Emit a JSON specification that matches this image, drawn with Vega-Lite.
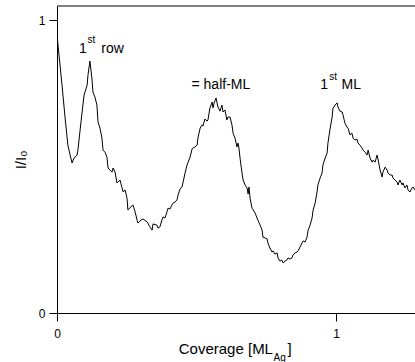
{
  "$schema": "https://vega.github.io/schema/vega-lite/v6.json",
  "width": 358,
  "height": 307,
  "autosize": {"type": "none"},
  "padding": {"left": 57, "top": 6, "right": 0, "bottom": 49},
  "background": "white",
  "config": {
    "view": {"stroke": null},
    "font": "Liberation Sans",
    "text": {"font": "Liberation Sans", "color": "black"}
  },
  "datasets": {
    "curve": [
      {"x":0,"y":0.949},{"x":0.018,"y":0.778},{"x":0.029,"y":0.666},{"x":0.039,"y":0.573},{"x":0.047,"y":0.539},
      {"x":0.054,"y":0.512},{"x":0.061,"y":0.529},{"x":0.072,"y":0.539},{"x":0.075,"y":0.556},{"x":0.082,"y":0.618},
      {"x":0.090,"y":0.686},{"x":0.097,"y":0.744},{"x":0.108,"y":0.778},{"x":0.111,"y":0.812},{"x":0.118,"y":0.860},
      {"x":0.125,"y":0.802},{"x":0.129,"y":0.754},{"x":0.136,"y":0.737},{"x":0.143,"y":0.710},{"x":0.147,"y":0.652},
      {"x":0.154,"y":0.631},{"x":0.161,"y":0.597},{"x":0.165,"y":0.556},{"x":0.172,"y":0.549},{"x":0.179,"y":0.532},
      {"x":0.183,"y":0.495},{"x":0.197,"y":0.481},{"x":0.201,"y":0.495},{"x":0.208,"y":0.481},{"x":0.215,"y":0.444},
      {"x":0.219,"y":0.447},{"x":0.226,"y":0.454},{"x":0.233,"y":0.427},{"x":0.237,"y":0.413},{"x":0.244,"y":0.420},
      {"x":0.251,"y":0.392},{"x":0.254,"y":0.352},{"x":0.265,"y":0.362},{"x":0.272,"y":0.369},{"x":0.280,"y":0.345},
      {"x":0.287,"y":0.317},{"x":0.290,"y":0.307},{"x":0.301,"y":0.317},{"x":0.308,"y":0.321},{"x":0.323,"y":0.311},
      {"x":0.333,"y":0.294},{"x":0.341,"y":0.283},{"x":0.344,"y":0.304},{"x":0.358,"y":0.300},{"x":0.362,"y":0.290},
      {"x":0.369,"y":0.294},{"x":0.376,"y":0.317},{"x":0.380,"y":0.328},{"x":0.387,"y":0.324},{"x":0.394,"y":0.345},
      {"x":0.398,"y":0.358},{"x":0.405,"y":0.355},{"x":0.412,"y":0.369},{"x":0.416,"y":0.375},{"x":0.423,"y":0.379},
      {"x":0.430,"y":0.386},{"x":0.434,"y":0.403},{"x":0.441,"y":0.423},{"x":0.448,"y":0.430},{"x":0.452,"y":0.447},
      {"x":0.459,"y":0.478},{"x":0.466,"y":0.505},{"x":0.470,"y":0.515},{"x":0.477,"y":0.532},{"x":0.484,"y":0.560},
      {"x":0.487,"y":0.563},{"x":0.495,"y":0.567},{"x":0.502,"y":0.573},{"x":0.505,"y":0.597},{"x":0.513,"y":0.631},
      {"x":0.520,"y":0.642},{"x":0.523,"y":0.638},{"x":0.530,"y":0.662},{"x":0.538,"y":0.655},{"x":0.541,"y":0.659},
      {"x":0.548,"y":0.700},{"x":0.556,"y":0.720},{"x":0.559,"y":0.700},{"x":0.563,"y":0.717},{"x":0.570,"y":0.734},
      {"x":0.573,"y":0.720},{"x":0.577,"y":0.703},{"x":0.584,"y":0.689},{"x":0.591,"y":0.710},{"x":0.595,"y":0.686},
      {"x":0.602,"y":0.693},{"x":0.609,"y":0.659},{"x":0.613,"y":0.669},{"x":0.620,"y":0.669},{"x":0.627,"y":0.642},
      {"x":0.631,"y":0.614},{"x":0.638,"y":0.597},{"x":0.645,"y":0.567},{"x":0.649,"y":0.580},{"x":0.652,"y":0.563},
      {"x":0.656,"y":0.529},{"x":0.663,"y":0.478},{"x":0.667,"y":0.454},{"x":0.674,"y":0.437},{"x":0.681,"y":0.427},
      {"x":0.685,"y":0.406},{"x":0.688,"y":0.430},{"x":0.692,"y":0.392},{"x":0.699,"y":0.358},{"x":0.703,"y":0.352},
      {"x":0.710,"y":0.341},{"x":0.717,"y":0.324},{"x":0.720,"y":0.317},{"x":0.728,"y":0.300},{"x":0.735,"y":0.283},
      {"x":0.738,"y":0.259},{"x":0.746,"y":0.256},{"x":0.753,"y":0.253},{"x":0.756,"y":0.239},{"x":0.763,"y":0.222},
      {"x":0.771,"y":0.208},{"x":0.774,"y":0.212},{"x":0.781,"y":0.201},{"x":0.789,"y":0.205},{"x":0.792,"y":0.188},
      {"x":0.799,"y":0.177},{"x":0.806,"y":0.181},{"x":0.810,"y":0.171},{"x":0.817,"y":0.177},{"x":0.824,"y":0.181},
      {"x":0.828,"y":0.188},{"x":0.835,"y":0.184},{"x":0.842,"y":0.188},{"x":0.846,"y":0.198},{"x":0.853,"y":0.205},
      {"x":0.860,"y":0.208},{"x":0.864,"y":0.212},{"x":0.871,"y":0.225},{"x":0.878,"y":0.239},{"x":0.882,"y":0.246},
      {"x":0.889,"y":0.242},{"x":0.896,"y":0.259},{"x":0.900,"y":0.283},{"x":0.907,"y":0.300},{"x":0.914,"y":0.324},
      {"x":0.918,"y":0.352},{"x":0.925,"y":0.375},{"x":0.932,"y":0.413},{"x":0.935,"y":0.437},{"x":0.943,"y":0.461},
      {"x":0.950,"y":0.478},{"x":0.953,"y":0.505},{"x":0.961,"y":0.529},{"x":0.968,"y":0.546},{"x":0.971,"y":0.580},
      {"x":0.978,"y":0.625},{"x":0.986,"y":0.669},{"x":0.989,"y":0.700},{"x":0.993,"y":0.703},{"x":0.996,"y":0.710},
      {"x":1.004,"y":0.717},{"x":1.007,"y":0.703},{"x":1.014,"y":0.689},{"x":1.022,"y":0.686},{"x":1.025,"y":0.676},
      {"x":1.032,"y":0.648},{"x":1.039,"y":0.635},{"x":1.043,"y":0.631},{"x":1.050,"y":0.608},{"x":1.057,"y":0.614},
      {"x":1.061,"y":0.597},{"x":1.068,"y":0.590},{"x":1.075,"y":0.594},{"x":1.079,"y":0.580},{"x":1.086,"y":0.573},
      {"x":1.093,"y":0.563},{"x":1.097,"y":0.556},{"x":1.104,"y":0.549},{"x":1.111,"y":0.539},{"x":1.115,"y":0.556},
      {"x":1.122,"y":0.529},{"x":1.129,"y":0.515},{"x":1.133,"y":0.522},{"x":1.140,"y":0.515},{"x":1.147,"y":0.539},
      {"x":1.151,"y":0.522},{"x":1.158,"y":0.488},{"x":1.165,"y":0.464},{"x":1.168,"y":0.481},{"x":1.176,"y":0.498},
      {"x":1.183,"y":0.488},{"x":1.186,"y":0.478},{"x":1.194,"y":0.471},{"x":1.201,"y":0.471},{"x":1.204,"y":0.461},
      {"x":1.211,"y":0.454},{"x":1.219,"y":0.447},{"x":1.222,"y":0.437},{"x":1.229,"y":0.454},{"x":1.237,"y":0.437},
      {"x":1.240,"y":0.444},{"x":1.247,"y":0.427},{"x":1.254,"y":0.437},{"x":1.258,"y":0.420},{"x":1.265,"y":0.413},
      {"x":1.272,"y":0.427},{"x":1.276,"y":0.430},{"x":1.283,"y":0.420}
    ],
    "labels": [
      {"x":0.079,"y":0.887,"text":"1"},
      {"x":0.159,"y":0.887,"text":"row"},
      {"x":0.482,"y":0.765,"text":"= half-ML"},
      {"x":0.943,"y":0.765,"text":"1"},
      {"x":1.020,"y":0.765,"text":"ML"}
    ],
    "sups": [
      {"x":0.109,"y":0.922,"text":"st"},
      {"x":0.976,"y":0.795,"text":"st"}
    ],
    "xtitle": [{"x":0.774,"y":-0.140,"text":"Coverage [ML"}],
    "xsub": [{"x":0.776,"y":-0.164,"text":"Ag"}],
    "xclose": [{"x":0.826,"y":-0.140,"text":"]"}]
  },
  "layer": [
    {
      "data": {"name": "curve"},
      "mark": {"type": "line", "color": "black", "strokeWidth": 1, "clip": true},
      "encoding": {
        "x": {
          "field": "x", "type": "quantitative",
          "scale": {"domain": [0, 1.283], "nice": false, "zero": false},
          "axis": {
            "values": [0, 0.5, 1], "format": "d",
            "labelExpr": "datum.value == 0.5 ? '' : datum.label",
            "title": null, "grid": false,
            "tickSize": {"condition": {"test": "datum.value == 0.5", "value": 4}, "value": 8},
            "labelPadding": 7, "labelFontSize": 12, "labelFont": "Liberation Sans",
            "labelColor": "black", "domainColor": "black", "tickColor": "black", "labelFlush": false
          }
        },
        "y": {
          "field": "y", "type": "quantitative",
          "scale": {"domain": [0, 1.048], "nice": false, "zero": false},
          "axis": {
            "values": [0, 0.5, 1], "format": "d",
            "labelExpr": "datum.value == 0.5 ? '' : datum.label",
            "title": "I/I₀", "titleFontSize": 15, "titleFontWeight": "normal",
            "titleFont": "Liberation Sans", "titleColor": "black", "titlePadding": 10,
            "grid": false,
            "tickSize": {"condition": {"test": "datum.value == 0.5", "value": 4}, "value": 8},
            "labelPadding": 4, "labelFontSize": 12, "labelFont": "Liberation Sans",
            "labelColor": "black", "domainColor": "black", "tickColor": "black", "labelFlush": false
          }
        }
      }
    },
    {
      "data": {"values": [{}]},
      "mark": {"type": "rule", "color": "black", "strokeWidth": 1},
      "encoding": {
        "y": {"datum": 1.048, "type": "quantitative", "scale": {"domain": [0, 1.048], "nice": false, "zero": false}}
      }
    },
    {
      "data": {"name": "labels"},
      "mark": {"type": "text", "align": "left", "baseline": "alphabetic", "fontSize": 14},
      "encoding": {
        "x": {"field": "x", "type": "quantitative", "scale": {"domain": [0, 1.283], "nice": false, "zero": false}},
        "y": {"field": "y", "type": "quantitative", "scale": {"domain": [0, 1.048], "nice": false, "zero": false}},
        "text": {"field": "text"}
      }
    },
    {
      "data": {"name": "sups"},
      "mark": {"type": "text", "align": "left", "baseline": "alphabetic", "fontSize": 10},
      "encoding": {
        "x": {"field": "x", "type": "quantitative", "scale": {"domain": [0, 1.283], "nice": false, "zero": false}},
        "y": {"field": "y", "type": "quantitative", "scale": {"domain": [0, 1.048], "nice": false, "zero": false}},
        "text": {"field": "text"}
      }
    },
    {
      "data": {"name": "xtitle"},
      "mark": {"type": "text", "align": "right", "baseline": "alphabetic", "fontSize": 15},
      "encoding": {
        "x": {"field": "x", "type": "quantitative", "scale": {"domain": [0, 1.283], "nice": false, "zero": false}},
        "y": {"field": "y", "type": "quantitative", "scale": {"domain": [0, 1.048], "nice": false, "zero": false}},
        "text": {"field": "text"}
      }
    },
    {
      "data": {"name": "xsub"},
      "mark": {"type": "text", "align": "left", "baseline": "alphabetic", "fontSize": 10},
      "encoding": {
        "x": {"field": "x", "type": "quantitative", "scale": {"domain": [0, 1.283], "nice": false, "zero": false}},
        "y": {"field": "y", "type": "quantitative", "scale": {"domain": [0, 1.048], "nice": false, "zero": false}},
        "text": {"field": "text"}
      }
    },
    {
      "data": {"name": "xclose"},
      "mark": {"type": "text", "align": "left", "baseline": "alphabetic", "fontSize": 15},
      "encoding": {
        "x": {"field": "x", "type": "quantitative", "scale": {"domain": [0, 1.283], "nice": false, "zero": false}},
        "y": {"field": "y", "type": "quantitative", "scale": {"domain": [0, 1.048], "nice": false, "zero": false}},
        "text": {"field": "text"}
      }
    }
  ]
}
